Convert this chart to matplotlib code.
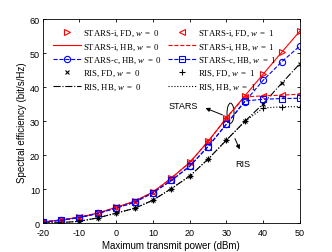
import matplotlib
matplotlib.use("Agg")
import matplotlib.pyplot as plt
from matplotlib.patches import Ellipse

plt.rcParams['mathtext.fontset'] = 'custom'
plt.rcParams['mathtext.rm'] = 'Liberation Serif'
plt.rcParams['mathtext.it'] = 'Liberation Serif:italic'
plt.rcParams['axes.unicode_minus'] = False

power = [-20, -15, -10, -5, 0, 5, 10, 15, 20, 25, 30, 35, 40, 45, 50]
stars_i_w0 = [0.4, 1.0, 1.8, 3.0, 4.7, 6.5, 9.2, 13.3, 17.9, 24.1, 31.0, 37.5, 43.9, 50.3, 56.6]
stars_c_w0 = [0.3, 0.9, 1.7, 2.9, 4.5, 6.2, 9.0, 12.6, 16.8, 22.6, 29.2, 35.8, 42.1, 47.5, 52.2]
stars_i_w1 = [0.4, 1.0, 1.8, 3.0, 4.7, 6.5, 9.2, 13.3, 17.9, 24.1, 31.0, 37.2, 37.5, 37.7, 38.0]
stars_c_w1 = [0.3, 0.9, 1.7, 2.9, 4.5, 6.2, 9.0, 12.6, 16.8, 22.6, 29.2, 36.0, 36.5, 36.7, 36.8]
ris_w0 = [0.1, 0.2, 0.6, 1.6, 3.0, 4.4, 6.8, 10.2, 13.9, 18.9, 24.5, 30.0, 35.2, 41.2, 47.0]
ris_w1 = [0.1, 0.2, 0.6, 1.6, 3.0, 4.4, 6.8, 10.2, 13.9, 18.9, 24.5, 30.0, 33.9, 34.3, 34.3]

fig = plt.figure(figsize=(3.32, 2.53), dpi=100)
ax = fig.add_axes([0.1286, 0.1134, 0.775, 0.806])

R = (1, 0, 0)
B = (0, 0, 1)
K = (0, 0, 0)
ms = 4.5
lw = 0.8

h = []
h.append(ax.plot(power, stars_i_w0, ls='none', marker='>', mfc='none', mec=R, ms=ms, mew=0.8,
                 label=r'STARS-i, FD, $w\ =\ 0$')[0])
h.append(ax.plot(power, stars_i_w0, ls='-', color=R, lw=lw, label=r'STARS-i, HB, $w\ =\ 0$')[0])
h.append(ax.plot(power, stars_c_w0, ls='--', color=B, lw=lw, marker='o', mfc='none', mec=B, ms=ms, mew=0.8,
                 label=r'STARS-c, HB, $w\ =\ 0$')[0])
h.append(ax.plot(power, ris_w0, ls='none', marker='x', color=K, ms=3, mew=0.8, label=r'RIS, FD, $w\ =\ 0$')[0])
h.append(ax.plot(power, ris_w0, ls='-.', color=K, lw=lw, label=r'RIS, HB, $w\ =\ 0$')[0])
h.append(ax.plot(power, stars_i_w1, ls='none', marker='<', mfc='none', mec=R, ms=ms, mew=0.8,
                 label=r'STARS-i, FD, $w\ =\ 1$')[0])
h.append(ax.plot(power, stars_i_w1, ls='--', color=R, lw=lw, label=r'STARS-i, HB, $w\ =\ 1$')[0])
h.append(ax.plot(power, stars_c_w1, ls='--', color=B, lw=lw, marker='s', mfc='none', mec=B, ms=ms - 0.5, mew=0.8,
                 label=r'STARS-c, HB, $w\ =\ 1$')[0])
h.append(ax.plot(power, ris_w1, ls='none', marker='+', color=K, ms=4, mew=0.8, label=r'RIS, FD, $w\ =\ 1$')[0])
h.append(ax.plot(power, ris_w1, ls=':', color=K, lw=lw, label=r'RIS, HB, $w\ =\ 1$')[0])

ax.set_xlim(-20, 50)
ax.set_ylim(0, 60)
ax.set_xticks(range(-20, 51, 10))
ax.set_yticks(range(0, 61, 10))
ax.tick_params(direction='in', top=True, right=True, labelsize=6.5, length=2.5, width=0.6)
ax.tick_params(axis='x', pad=3.5)
ax.tick_params(axis='y', pad=2)
for s in ax.spines.values():
    s.set_linewidth(0.6)
for lab in ax.get_xticklabels() + ax.get_yticklabels():
    lab.set_family('Liberation Sans')
ax.set_xlabel('Maximum transmit power (dBm)', fontsize=7, family='Liberation Sans', labelpad=2)
ax.set_ylabel('Spectral efficiency (bit/s/Hz)', fontsize=7, family='Liberation Sans', labelpad=2)

leg = ax.legend(handles=h, ncol=2, loc='upper left', bbox_to_anchor=(0.02, 0.985), frameon=False,
                prop={'family': 'Liberation Serif', 'size': 6.3}, handlelength=3.2, handletextpad=0.2,
                columnspacing=0.8, labelspacing=0.35, borderaxespad=0.2)

ax.add_patch(Ellipse((31.1, 32.4), 1.9, 5.9, fill=False, ec=K, lw=0.7))
ax.annotate('', xy=(23.6, 34.2), xytext=(29.6, 31.6),
            arrowprops=dict(arrowstyle='-|>', color=K, lw=0.7, mutation_scale=6))
ax.text(18.2, 34.8, 'STARS', fontsize=6.5, family='Liberation Sans', ha='center', va='center')
ax.annotate('', xy=(33.9, 21.0), xytext=(32.0, 25.7),
            arrowprops=dict(arrowstyle='-|>', color=K, lw=0.7, mutation_scale=6))
ax.text(34.4, 17.7, 'RIS', fontsize=6.5, family='Liberation Sans', ha='center', va='center')

fig.savefig('out.png', dpi=100)
